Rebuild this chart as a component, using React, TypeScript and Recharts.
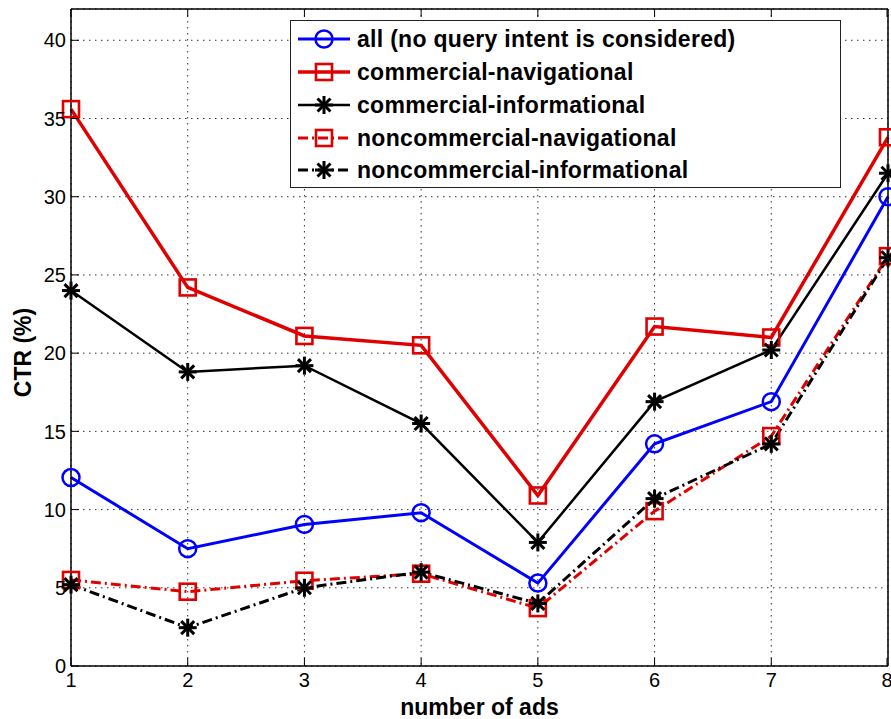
import { LineChart, Line, XAxis, YAxis, CartesianGrid } from "recharts";

const numAds = [1, 2, 3, 4, 5, 6, 7, 8];
const ctrAll = [12.05, 7.5, 9.05, 9.8, 5.3, 14.2, 16.9, 30.0];
const ctrCommNav = [35.6, 24.2, 21.1, 20.5, 10.9, 21.7, 21.0, 33.8];
const ctrCommInfo = [24.0, 18.8, 19.2, 15.5, 7.9, 16.9, 20.2, 31.5];
const ctrNoncommNav = [5.5, 4.75, 5.45, 5.9, 3.7, 9.9, 14.7, 26.2];
const ctrNoncommInfo = [5.2, 2.45, 5.0, 6.0, 4.0, 10.7, 14.2, 26.1];
const yTicks = [0, 5, 10, 15, 20, 25, 30, 35, 40];

const data = numAds.map((n, i) => ({
    n,
    all: ctrAll[i],
    commNav: ctrCommNav[i],
    commInfo: ctrCommInfo[i],
    noncommNav: ctrNoncommNav[i],
    noncommInfo: ctrNoncommInfo[i]
}));

const RED = "#e00000";
const BLUE = "#0000ff";
const BLACK = "#000000";
const FONT = "'Liberation Sans', Arial, Helvetica, sans-serif";

// plot box (axes are sized so the box lands here)
const PL = 71, PR = 888, PT = 9, PB = 666;
const TICK = 8;

type MarkerKind = "circle" | "square" | "star";

function Marker({ cx, cy, kind, color }: { cx: number; cy: number; kind: MarkerKind; color: string }) {
    if (kind === "circle") {
        return <circle cx={cx} cy={cy} r={8.5} fill="none" stroke={color} strokeWidth={2.5} />;
    }
    if (kind === "square") {
        return <rect x={cx - 8} y={cy - 8} width={16} height={16} fill="none" stroke={color} strokeWidth={2.6} />;
    }
    const r = 9, d = 6.5;
    return (
        <g stroke={color} strokeWidth={3}>
            <line x1={cx - r} y1={cy} x2={cx + r} y2={cy} />
            <line x1={cx} y1={cy - r} x2={cx} y2={cy + r} />
            <line x1={cx - d} y1={cy - d} x2={cx + d} y2={cy + d} />
            <line x1={cx - d} y1={cy + d} x2={cx + d} y2={cy - d} />
        </g>
    );
}

const series = [
    { key: "all", name: "all (no query intent is considered)", color: BLUE, kind: "circle" as MarkerKind, dash: undefined, width: 3 },
    { key: "commNav", name: "commercial-navigational", color: RED, kind: "square" as MarkerKind, dash: undefined, width: 3.5 },
    { key: "commInfo", name: "commercial-informational", color: BLACK, kind: "star" as MarkerKind, dash: undefined, width: 2.5 },
    { key: "noncommNav", name: "noncommercial-navigational", color: RED, kind: "square" as MarkerKind, dash: "10 4 2 4", width: 3 },
    { key: "noncommInfo", name: "noncommercial-informational", color: BLACK, kind: "star" as MarkerKind, dash: "10 4 2 4", width: 3 }
];

const LeftTick = (p: any) => (
    <g>
        <line x1={PL} x2={PL + TICK} y1={p.y} y2={p.y} stroke="#000" strokeWidth={1} />
        <text x={PL - 5} y={p.y} dy="0.36em" textAnchor="end" fontSize={20} fontFamily={FONT} fill="#000">
            {p.payload.value}
        </text>
    </g>
);

const RightTick = (p: any) => (
    <line x1={PR} x2={PR - TICK} y1={p.y} y2={p.y} stroke="#000" strokeWidth={1} />
);

const BottomTick = (p: any) => (
    <g>
        <line x1={p.x} x2={p.x} y1={PB} y2={PB - TICK} stroke="#000" strokeWidth={1} />
        <text x={p.x} y={PB + 21} textAnchor="middle" fontSize={20} fontFamily={FONT} fill="#000">
            {p.payload.value}
        </text>
    </g>
);

const TopTick = (p: any) => (
    <line x1={p.x} x2={p.x} y1={PT} y2={PT + TICK} stroke="#000" strokeWidth={1} />
);

function LegendBox() {
    const rowY = [18, 51, 84, 117, 149];
    return (
        <div style={{ position: "absolute", left: 290, top: 20, width: 551, height: 168, boxSizing: "border-box", border: "1.5px solid #222", background: "#fff" }}>
            <svg width={548} height={165} style={{ display: "block" }}>
                {series.map((s, i) => (
                    <g key={s.key}>
                        <line x1={7} x2={59} y1={rowY[i]} y2={rowY[i]} stroke={s.color} strokeWidth={s.width} strokeDasharray={s.dash} />
                        <Marker cx={33} cy={rowY[i]} kind={s.kind} color={s.color} />
                        <text x={66} y={rowY[i]} dy="0.36em" fontSize={23} fontWeight="bold" fontFamily={FONT} letterSpacing={0.3} fill="#000">
                            {s.name}
                        </text>
                    </g>
                ))}
            </svg>
        </div>
    );
}

export default function App() {
    return (
        <div style={{ position: "absolute", left: 0, top: 0, width: 891, height: 719, background: "#fff" }}>
            <LineChart width={891} height={719} data={data} margin={{ top: 0, right: 0, bottom: 0, left: 0 }}>
                <CartesianGrid stroke="#333" strokeDasharray="1.5 4.5" strokeWidth={1} />
                <XAxis
                    dataKey="n"
                    type="number"
                    domain={[1, 8]}
                    ticks={numAds}
                    height={53}
                    axisLine={{ stroke: "#000", strokeWidth: 1.5 }}
                    tickLine={false}
                    tick={BottomTick}
                    label={(p: any) => (
                        <text
                            x={p.viewBox.x + p.viewBox.width / 2}
                            y={p.viewBox.y + 49}
                            textAnchor="middle"
                            fontSize={23}
                            fontWeight="bold"
                            fontFamily={FONT}
                            fill="#000"
                        >
                            number of ads
                        </text>
                    )}
                />
                <XAxis
                    xAxisId="top"
                    orientation="top"
                    dataKey="n"
                    type="number"
                    domain={[1, 8]}
                    ticks={numAds}
                    height={9}
                    axisLine={{ stroke: "#000", strokeWidth: 1.5 }}
                    tickLine={false}
                    tick={TopTick}
                />
                <YAxis
                    type="number"
                    domain={[0, 42]}
                    ticks={yTicks}
                    width={71}
                    axisLine={{ stroke: "#000", strokeWidth: 1.5 }}
                    tickLine={false}
                    tick={LeftTick}
                    label={(p: any) => (
                        <text
                            transform={`translate(${p.viewBox.x + 31}, ${p.viewBox.y + p.viewBox.height / 2 + 15}) rotate(-90)`}
                            textAnchor="middle"
                            fontSize={23}
                            fontWeight="bold"
                            fontFamily={FONT}
                            fill="#000"
                        >
                            CTR (%)
                        </text>
                    )}
                />
                <YAxis
                    yAxisId="right"
                    orientation="right"
                    type="number"
                    domain={[0, 42]}
                    ticks={yTicks}
                    width={3}
                    axisLine={{ stroke: "#000", strokeWidth: 1.5 }}
                    tickLine={false}
                    tick={RightTick}
                />
                {series.map((s) => (
                    <Line
                        key={s.key}
                        dataKey={s.key}
                        name={s.name}
                        type="linear"
                        stroke={s.color}
                        strokeWidth={s.width}
                        strokeDasharray={s.dash}
                        isAnimationActive={false}
                        activeDot={false}
                        dot={(p: any) => (
                            <Marker key={`${s.key}-${p.index}`} cx={p.cx} cy={p.cy} kind={s.kind} color={s.color} />
                        )}
                    />
                ))}
            </LineChart>
            <LegendBox />
        </div>
    );
}
